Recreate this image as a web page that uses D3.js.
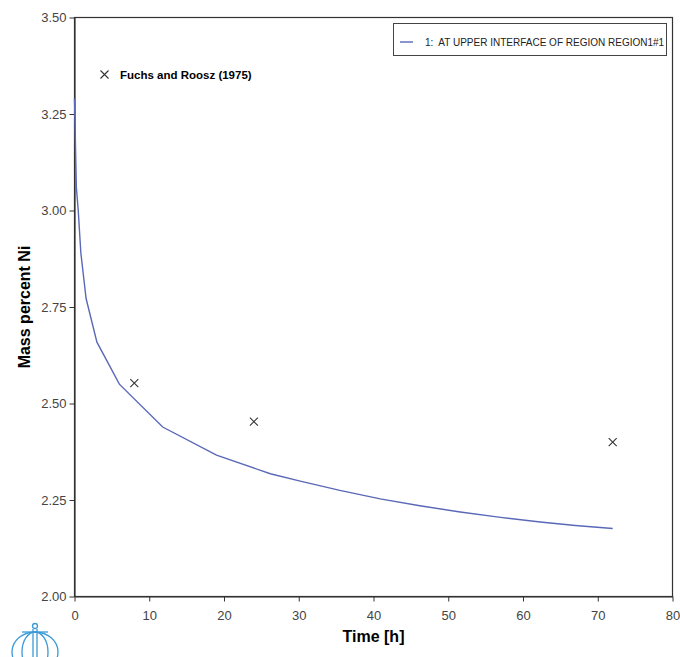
<!DOCTYPE html>
<html><head><meta charset="utf-8">
<script src="https://cdn.jsdelivr.net/npm/d3@7"></script>
<style>body{margin:0;background:#fff}svg{display:block}text{font-family:"Liberation Sans",Arial,sans-serif}</style>
</head><body><svg id="c" width="680" height="657"></svg>
<script>
const curveTime = [0, 0.25, 0.5, 0.85, 1.55, 3.0, 6.0, 11.8, 19.0, 26.2, 30.2, 35.5, 40.9, 46.2, 51.6, 57.0, 62.3, 67.0, 72];
const curveNi   = [3.29, 3.06, 3.0, 2.89, 2.772, 2.659, 2.55, 2.439, 2.366, 2.318, 2.299, 2.275, 2.253, 2.235, 2.219, 2.205, 2.193, 2.184, 2.176];
const expTime = [8, 24, 72];
const expNi   = [2.553, 2.453, 2.40];
const xTicks = [0,10,20,30,40,50,60,70,80];
const yTicks = [2.00,2.25,2.50,2.75,3.00,3.25,3.50];
const legendLabel = "1:  AT UPPER INTERFACE OF REGION REGION1#1";
const expLabel = "Fuchs and Roosz (1975)";

const svg = d3.select("#c");
const L=74.5, R=672.5, T=17.5, B=596.5;
const x = d3.scaleLinear().domain([0,80]).range([L,R]);
const y = d3.scaleLinear().domain([2,3.5]).range([B,T]);
const axisCol="#333", tickText="#444";

svg.append("rect").attr("x",L).attr("y",T).attr("width",R-L).attr("height",B-T)
  .attr("fill","none").attr("stroke",axisCol).attr("stroke-width",1.2);

const xa = svg.append("g").attr("transform",`translate(0,${B})`)
  .call(d3.axisBottom(x).tickValues(xTicks).tickFormat(d3.format("d")).tickSize(5).tickSizeOuter(0).tickPadding(9));
const ya = svg.append("g").attr("transform",`translate(${L},0)`)
  .call(d3.axisLeft(y).tickValues(yTicks).tickFormat(d3.format(".2f")).tickSize(5).tickSizeOuter(0).tickPadding(3));
[xa,ya].forEach(g=>{
  g.select(".domain").attr("stroke",axisCol).attr("stroke-width",1.2);
  g.selectAll(".tick line").attr("stroke",axisCol);
  g.selectAll(".tick text").attr("fill",tickText).style("font-size","13px").style("font-family","'Liberation Sans',Arial,sans-serif");
});

svg.append("text").attr("x",(L+R)/2).attr("y",642).attr("text-anchor","middle")
  .style("font-size","16px").style("font-weight","bold").attr("fill","#000").text("Time [h]");
svg.append("text").attr("transform",`translate(30,${(T+B)/2}) rotate(-90)`).attr("text-anchor","middle")
  .style("font-size","16px").style("font-weight","bold").attr("fill","#000").text("Mass percent Ni");

const pts = curveTime.map((t,i)=>[t,curveNi[i]]);
svg.append("path").datum(pts)
  .attr("d", d3.line().x(d=>x(d[0])).y(d=>y(d[1])))
  .attr("fill","none").attr("stroke","#5a68b8").attr("stroke-width",1.4);

function cross(g,cx,cy,s){
  g.append("path").attr("d",`M${cx-s},${cy-s}L${cx+s},${cy+s}M${cx-s},${cy+s}L${cx+s},${cy-s}`)
   .attr("stroke","#333").attr("stroke-width",1.1).attr("fill","none");
}
expTime.forEach((t,i)=>cross(svg,x(t),y(expNi[i]),4));

cross(svg,104.5,74.5,4);
svg.append("text").attr("x",120).attr("y",78.5).style("font-size","11.5px").style("font-weight","bold")
  .attr("fill","#000").text(expLabel);

svg.append("rect").attr("x",393.5).attr("y",23.5).attr("width",273).attr("height",32)
  .attr("fill","#fff").attr("stroke","#444").attr("stroke-width",1);
svg.append("line").attr("x1",400).attr("x2",413).attr("y1",42).attr("y2",42)
  .attr("stroke","#5a68b8").attr("stroke-width",1.4);
svg.append("text").attr("x",425).attr("y",46).style("font-size","10px").attr("fill","#222")
  .attr("xml:space","preserve").style("white-space","pre").text(legendLabel);

const lg = svg.append("g").attr("stroke","#3c9ad8").attr("fill","none").attr("stroke-width",1.3);
lg.append("circle").attr("cx",35).attr("cy",626).attr("r",2.5);
lg.append("ellipse").attr("cx",35).attr("cy",652).attr("rx",23).attr("ry",20);
lg.append("ellipse").attr("cx",35).attr("cy",652).attr("rx",13).attr("ry",20);
lg.append("line").attr("x1",33).attr("x2",33).attr("y1",629).attr("y2",657);
lg.append("line").attr("x1",37).attr("x2",37).attr("y1",629).attr("y2",657);
lg.append("line").attr("x1",22).attr("x2",48).attr("y1",632).attr("y2",632);
</script></body></html>
